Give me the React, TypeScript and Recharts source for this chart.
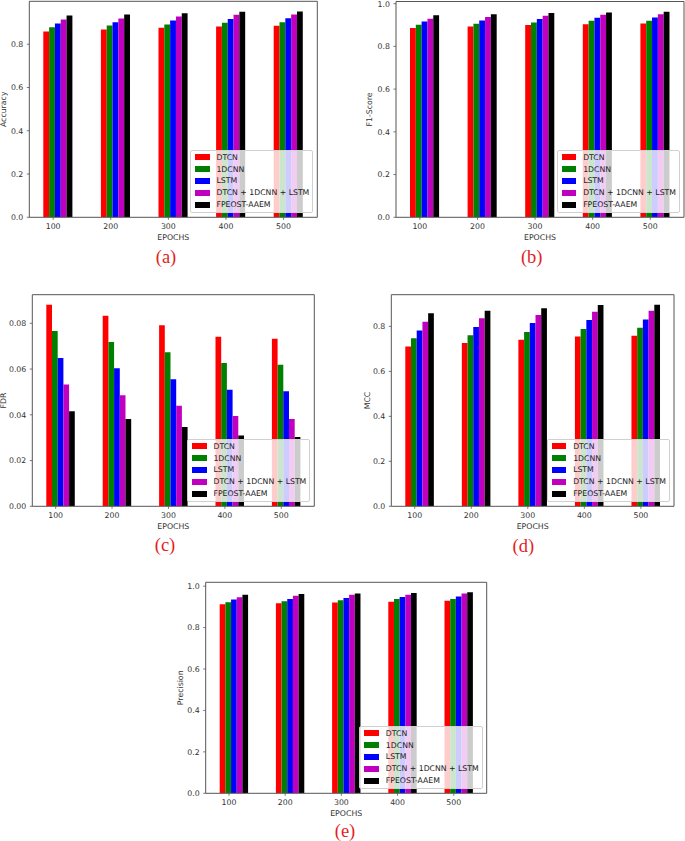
import React from "react";
import { BarChart, Bar, XAxis, YAxis, Legend, Label } from "recharts";

const epochs = ["100", "200", "300", "400", "500"];
const models = ["DTCN", "1DCNN", "LSTM", "DTCN + 1DCNN + LSTM", "FPEOST-AAEM"];
const colors = ["#ff0000", "#008000", "#0000ff", "#bf00bf", "#000000"];

// one row per model, one value per epoch
const accuracy = [
  [0.859, 0.868, 0.876, 0.882, 0.885],
  [0.879, 0.887, 0.891, 0.899, 0.902],
  [0.896, 0.902, 0.91, 0.917, 0.92],
  [0.914, 0.919, 0.928, 0.936, 0.938],
  [0.933, 0.937, 0.943, 0.95, 0.951],
];
const f1Score = [
  [0.886, 0.893, 0.9, 0.904, 0.907],
  [0.901, 0.906, 0.912, 0.92, 0.92],
  [0.917, 0.921, 0.928, 0.934, 0.935],
  [0.929, 0.938, 0.943, 0.948, 0.951],
  [0.946, 0.951, 0.956, 0.959, 0.962],
];
const fdr = [
  [0.0881, 0.0833, 0.0791, 0.0741, 0.0733],
  [0.0766, 0.0718, 0.0674, 0.0626, 0.0619],
  [0.0648, 0.0603, 0.0555, 0.051, 0.0503],
  [0.0533, 0.0486, 0.044, 0.0395, 0.0382],
  [0.0415, 0.0382, 0.0347, 0.031, 0.0303],
];
const mcc = [
  [0.711, 0.726, 0.74, 0.755, 0.758],
  [0.747, 0.76, 0.775, 0.788, 0.794],
  [0.782, 0.797, 0.815, 0.828, 0.831],
  [0.821, 0.836, 0.85, 0.865, 0.869],
  [0.858, 0.869, 0.881, 0.895, 0.896],
];
const precision = [
  [0.912, 0.917, 0.921, 0.925, 0.929],
  [0.922, 0.927, 0.932, 0.938, 0.938],
  [0.935, 0.938, 0.943, 0.948, 0.95],
  [0.946, 0.953, 0.958, 0.959, 0.964],
  [0.958, 0.962, 0.964, 0.967, 0.97],
];

const ticksTo08 = [0, 0.2, 0.4, 0.6, 0.8];
const ticksTo10 = [0, 0.2, 0.4, 0.6, 0.8, 1.0];
const ticksFdr = [0, 0.02, 0.04, 0.06, 0.08];

const FONT = "'DejaVu Sans', sans-serif";
const TXT = "#333";
const SPINE = "#555";
const FS = 7.8;

type Rect = { l: number; t: number; r: number; b: number };
type Box = { x: number; y: number; w: number; h: number };

interface PanelProps {
  values: number[][];
  yLabel: string;
  ticks: number[];
  digits: number;
  box: Box;
  plot: Rect;
  yLabelX: number;
  caption: string;
  captionX: number;
  captionY: number;
}

function XTick(props: any) {
  const { x, y, payload, shift } = props;
  const tx = x + shift;
  return (
    <g>
      <line x1={tx} x2={tx} y1={y} y2={y + 2.5} stroke={SPINE} strokeWidth={0.8} />
      <text
        x={tx}
        y={y + 9.5}
        textAnchor="middle"
        dominantBaseline="central"
        fontSize={FS}
        fontFamily={FONT}
        fill={TXT}
      >
        {payload.value}
      </text>
    </g>
  );
}

// legend keeps the plotting order of the series
function LegendBox() {
  return (
    <div
      style={{
        background: "rgba(255,255,255,0.8)",
        border: "1px solid #d0d0d0",
        borderRadius: 2,
        padding: "0.5px 3px 1px 4px",
        fontFamily: FONT,
        fontSize: 7.75,
        color: "#222",
      }}
    >
      {models.map((m, k) => (
        <div key={m} style={{ display: "flex", alignItems: "center", height: 11.9, whiteSpace: "nowrap" }}>
          <span style={{ display: "inline-block", width: 14.7, height: 5.7, background: colors[k], marginRight: 6.7 }} />
          <span>{m}</span>
        </div>
      ))}
    </div>
  );
}

function Panel({ values, yLabel, ticks, digits, box, plot, yLabelX, caption, captionX, captionY }: PanelProps) {
  const data = epochs.map((epoch, i) => {
    const row: Record<string, string | number> = { epoch };
    models.forEach((m, k) => {
      row[m] = values[k][i];
    });
    return row;
  });
  const yMax = Math.max(...values.flat()) * 1.05;
  const barSize = (plot.r - plot.l) / 49.5;
  const shift = -0.85 * barSize;

  return (
    <>
      <div style={{ position: "absolute", left: box.x, top: box.y }}>
        <BarChart
          width={box.w}
          height={box.h}
          data={data}
          margin={{ top: plot.t - box.y - 1, right: box.x + box.w - plot.r - 1, bottom: 0, left: 0 }}
          barGap={0}
          barSize={barSize}
        >
          <XAxis
            xAxisId="main"
            dataKey="epoch"
            height={box.y + box.h - plot.b}
            interval={0}
            tickSize={0}
            tickMargin={0}
            tickLine={false}
            axisLine={{ stroke: SPINE, strokeWidth: 1 }}
            tick={<XTick shift={shift} />}
          >
            <Label
              content={() => (
                <text
                  x={(plot.l + plot.r) / 2 - box.x}
                  y={plot.b + 19.7 - box.y}
                  textAnchor="middle"
                  dominantBaseline="central"
                  fontSize={FS}
                  fontFamily={FONT}
                  fill={TXT}
                >
                  EPOCHS
                </text>
              )}
            />
          </XAxis>
          <XAxis
            xAxisId="top"
            orientation="top"
            dataKey="epoch"
            height={1}
            tick={false}
            tickLine={false}
            axisLine={{ stroke: SPINE, strokeWidth: 1 }}
          />
          <YAxis
            yAxisId="main"
            width={plot.l - box.x}
            domain={[0, yMax]}
            allowDataOverflow
            ticks={ticks}
            tickSize={2.5}
            tickMargin={3.5}
            tickLine={{ stroke: SPINE, strokeWidth: 0.8 }}
            axisLine={{ stroke: SPINE, strokeWidth: 1 }}
            tick={{ fontSize: FS, fill: TXT, fontFamily: FONT }}
            tickFormatter={(v: number) => v.toFixed(digits)}
          >
            <Label
              content={() => {
                const cx = yLabelX - box.x;
                const cy = (plot.t + plot.b) / 2 - box.y;
                return (
                  <text
                    x={cx}
                    y={cy}
                    transform={`rotate(-90 ${cx} ${cy})`}
                    textAnchor="middle"
                    dominantBaseline="central"
                    fontSize={FS}
                    fontFamily={FONT}
                    fill={TXT}
                  >
                    {yLabel}
                  </text>
                );
              }}
            />
          </YAxis>
          <YAxis
            yAxisId="right"
            orientation="right"
            width={1}
            domain={[0, yMax]}
            allowDataOverflow
            tick={false}
            tickLine={false}
            axisLine={{ stroke: SPINE, strokeWidth: 1 }}
          />
          {models.map((m, k) => (
            <Bar key={m} xAxisId="main" yAxisId="main" dataKey={m} fill={colors[k]} isAnimationActive={false} />
          ))}
          <Legend
            layout="vertical"
            align="center"
            verticalAlign="middle"
            wrapperStyle={{
              left: "auto",
              top: "auto",
              right: box.x + box.w - plot.r + 4,
              bottom: box.y + box.h - plot.b + 4.6,
              width: "auto",
              height: "auto",
            }}
            content={() => <LegendBox />}
          />
        </BarChart>
      </div>
      <div
        style={{
          position: "absolute",
          left: captionX - 40,
          top: captionY - 9,
          width: 80,
          lineHeight: "18px",
          textAlign: "center",
          fontFamily: "'Liberation Serif', 'Times New Roman', serif",
          fontSize: 18.5,
          color: "#e31e24",
        }}
      >
        {caption}
      </div>
    </>
  );
}

export default function App() {
  return (
    <div style={{ position: "absolute", left: 0, top: 0, width: 685, height: 841, background: "#fff", overflow: "hidden" }}>
      <Panel
        values={accuracy}
        yLabel="Accuracy"
        ticks={ticksTo08}
        digits={1}
        box={{ x: 0, y: 0, w: 345, h: 245 }}
        plot={{ l: 29.3, t: 1.3, r: 317.3, b: 217.3 }}
        yLabelX={4}
        caption="(a)"
        captionX={166}
        captionY={257.3}
      />
      <Panel
        values={f1Score}
        yLabel="F1-Score"
        ticks={ticksTo10}
        digits={1}
        box={{ x: 345, y: 0, w: 340, h: 245 }}
        plot={{ l: 396, t: 1.5, r: 684, b: 217.3 }}
        yLabelX={370}
        caption="(b)"
        captionX={531.7}
        captionY={256.7}
      />
      <Panel
        values={fdr}
        yLabel="FDR"
        ticks={ticksFdr}
        digits={2}
        box={{ x: 0, y: 285, w: 345, h: 250 }}
        plot={{ l: 32.3, t: 294.7, r: 314.3, b: 506.3 }}
        yLabelX={3.5}
        caption="(c)"
        captionX={165}
        captionY={545}
      />
      <Panel
        values={mcc}
        yLabel="MCC"
        ticks={ticksTo08}
        digits={1}
        box={{ x: 345, y: 285, w: 340, h: 250 }}
        plot={{ l: 391.3, t: 294.7, r: 674, b: 506.3 }}
        yLabelX={367.7}
        caption="(d)"
        captionX={523.3}
        captionY={545.7}
      />
      <Panel
        values={precision}
        yLabel="Precision"
        ticks={ticksTo10}
        digits={1}
        box={{ x: 160, y: 575, w: 360, h: 250 }}
        plot={{ l: 205.7, t: 582.3, r: 486.7, b: 793.3 }}
        yLabelX={180.7}
        caption="(e)"
        captionX={345}
        captionY={830.5}
      />
    </div>
  );
}
